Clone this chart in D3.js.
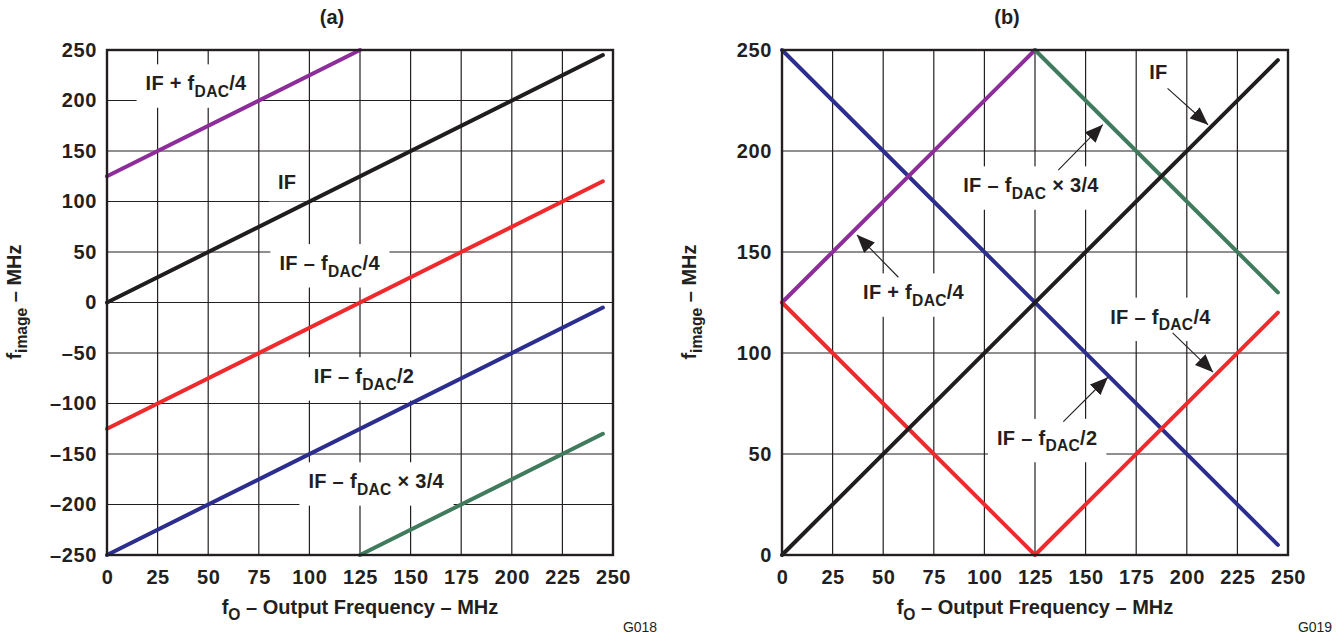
<!DOCTYPE html>
<html>
<head>
<meta charset="utf-8">
<script src="https://cdn.jsdelivr.net/npm/d3@7"></script>
<style>
body { margin: 0; background: #fff; }
text { font-family: 'Liberation Sans', Arial, Helvetica, sans-serif; fill: #231f20; }
</style>
</head>
<body>
<div class="chart"></div>
<script>
//data
const freqTicks = [0, 25, 50, 75, 100, 125, 150, 175, 200, 225, 250];
const imageTicksA = [-250, -200, -150, -100, -50, 0, 50, 100, 150, 200, 250];
const imageTicksB = [0, 50, 100, 150, 200, 250];

// panel (a): image frequency vs output frequency
const ifX = [0, 245];
const ifY = [0, 245];
const plusQuarterX = [0, 125];
const plusQuarterY = [125, 250];
const minusQuarterXA = [0, 245];
const minusQuarterYA = [-125, 120];
const minusHalfX = [0, 245];
const minusHalfYA = [-250, -5];
const minusThreeQX = [125, 245];
const minusThreeQYA = [-250, -130];

// panel (b): folded images
const minusQuarterXB = [0, 125, 245];
const minusQuarterYB = [125, 0, 120];
const minusHalfYB = [250, 5];
const minusThreeQYB = [250, 130];

const colors = {
    if: '#1f1d1e',
    plusQuarter: '#8f2c9c',
    minusQuarter: '#ee2a2d',
    minusHalf: '#2b2e8e',
    minusThreeQ: '#3f7b5c'
};

// label text pieces: [before subscript, subscript, after]
const labelTexts = {
    if: ['IF', '', ''],
    plusQuarter: ['IF + f', 'DAC', '/4'],
    minusQuarter: ['IF \u2013 f', 'DAC', '/4'],
    minusHalf: ['IF \u2013 f', 'DAC', '/2'],
    minusThreeQ: ['IF \u2013 f', 'DAC', ' \u00d7  3/4']
};

// label centres in data units
const labelsA = [
    { key: 'plusQuarter', x: 44, y: 217 },
    { key: 'if', x: 89, y: 119 },
    { key: 'minusQuarter', x: 110, y: 39 },
    { key: 'minusHalf', x: 127, y: -73 },
    { key: 'minusThreeQ', x: 133, y: -177 }
];
const labelsB = [
    { key: 'if', x: 186, y: 239, ax: [190.5, 210.5], ay: [231, 213] },
    { key: 'minusThreeQ', x: 123, y: 183, ax: [136.5, 158.5], ay: [190.5, 213] },
    { key: 'plusQuarter', x: 65, y: 130, ax: [57.5, 37], ay: [137.5, 158.5] },
    { key: 'minusQuarter', x: 187, y: 118, ax: [193, 213], ay: [110, 90.5] },
    { key: 'minusHalf', x: 131, y: 58, ax: [139, 161], ay: [66, 88] }
];

const zipXY = (xs, ys) => xs.map((x, i) => ({ x: x, y: ys[i] }));

const seriesA = [
    { key: 'plusQuarter', values: zipXY(plusQuarterX, plusQuarterY) },
    { key: 'if', values: zipXY(ifX, ifY) },
    { key: 'minusQuarter', values: zipXY(minusQuarterXA, minusQuarterYA) },
    { key: 'minusHalf', values: zipXY(minusHalfX, minusHalfYA) },
    { key: 'minusThreeQ', values: zipXY(minusThreeQX, minusThreeQYA) }
];
const seriesB = [
    { key: 'minusHalf', values: zipXY(minusHalfX, minusHalfYB) },
    { key: 'plusQuarter', values: zipXY(plusQuarterX, plusQuarterY) },
    { key: 'minusThreeQ', values: zipXY(minusThreeQX, minusThreeQYB) },
    { key: 'minusQuarter', values: zipXY(minusQuarterXB, minusQuarterYB) },
    { key: 'if', values: zipXY(ifX, ifY) }
];

//chart
const width = 1339;
const height = 637;

const svg = d3.select('.chart')
    .append('svg')
    .attr('width', width)
    .attr('height', height);

svg.append('rect').attr('width', width).attr('height', height).attr('fill', '#fff');

svg.append('defs')
    .append('marker')
    .attr('id', 'arrow')
    .attr('markerUnits', 'userSpaceOnUse')
    .attr('markerWidth', 19)
    .attr('markerHeight', 15)
    .attr('refX', 18)
    .attr('refY', 7.5)
    .attr('orient', 'auto')
    .append('path')
    .attr('d', 'M0,0 L18,7.5 L0,15 Z')
    .attr('fill', '#231f20');

// text with a subscript
const subText = (sel, parts, size) => {
    sel.append('tspan').text(parts[0]);
    if (parts[1]) {
        sel.append('tspan')
            .attr('dy', size * 0.32)
            .style('font-size', (size * 0.78) + 'px')
            .text(parts[1]);
        sel.append('tspan')
            .attr('dy', -size * 0.32)
            .text(parts[2]);
    }
};

const drawPanel = (cfg) => {
    const xScale = d3.scaleLinear().domain([0, 250]).range([cfg.left, cfg.right]);
    const yScale = d3.scaleLinear().domain(cfg.yDomain).range([555, 50]);
    const g = svg.append('g');

    // grid
    const grid = g.append('g').attr('class', 'grid');
    grid.selectAll('.vline')
        .data(freqTicks.slice(1, -1))
        .enter()
        .append('line')
        .attr('x1', d => xScale(d)).attr('x2', d => xScale(d))
        .attr('y1', yScale.range()[0]).attr('y2', yScale.range()[1])
        .attr('stroke', '#231f20').attr('stroke-width', 1.2);
    grid.selectAll('.hline')
        .data(cfg.yTicks.slice(1, -1))
        .enter()
        .append('line')
        .attr('y1', d => yScale(d)).attr('y2', d => yScale(d))
        .attr('x1', cfg.left).attr('x2', cfg.right)
        .attr('stroke', '#231f20').attr('stroke-width', 1.2);

    const boxes = g.append('g');
    const lineGroup = g.append('g');
    const textGroup = g.append('g');

    // labels with white boxes
    cfg.labels.forEach(l => {
        const t = textGroup.append('text')
            .attr('x', xScale(l.x))
            .attr('y', yScale(l.y) + 7)
            .attr('text-anchor', 'middle')
            .style('font-size', '20px')
            .style('font-weight', 'bold')
            .style('letter-spacing', '0.3px');
        subText(t, labelTexts[l.key], 20);
        const bb = t.node().getBBox();
        boxes.append('rect')
            .attr('x', bb.x - 9).attr('y', bb.y - 8)
            .attr('width', bb.width + 18).attr('height', bb.height + 16)
            .attr('fill', '#fff');
        if (l.ax) {
            textGroup.append('line')
                .attr('x1', xScale(l.ax[0])).attr('y1', yScale(l.ay[0]))
                .attr('x2', xScale(l.ax[1])).attr('y2', yScale(l.ay[1]))
                .attr('stroke', '#231f20')
                .attr('stroke-width', 1.1)
                .attr('marker-end', 'url(#arrow)');
        }
    });

    // series lines
    const lineGenerator = d3.line()
        .x(d => xScale(d.x))
        .y(d => yScale(d.y));
    lineGroup.selectAll('path')
        .data(cfg.series)
        .enter()
        .append('path')
        .attr('d', d => lineGenerator(d.values))
        .attr('fill', 'none')
        .attr('stroke', d => colors[d.key])
        .attr('stroke-width', 4)
        .attr('stroke-linecap', 'round')
        .attr('stroke-linejoin', 'round');

    // frame
    g.append('rect')
        .attr('x', cfg.left).attr('y', 50)
        .attr('width', cfg.right - cfg.left).attr('height', 505)
        .attr('fill', 'none')
        .attr('stroke', '#231f20')
        .attr('stroke-width', 2.4);

    // axes
    const xAxis = d3.axisBottom(xScale).tickValues(freqTicks).tickSize(0).tickPadding(15);
    const xAxisDraw = g.append('g')
        .attr('transform', 'translate(0,555)')
        .call(xAxis);
    const yAxis = d3.axisLeft(yScale).tickValues(cfg.yTicks).tickSize(0).tickPadding(10)
        .tickFormat(d => d < 0 ? '\u2013' + Math.abs(d) : d);
    const yAxisDraw = g.append('g')
        .attr('transform', `translate(${cfg.left},0)`)
        .call(yAxis);
    [xAxisDraw, yAxisDraw].forEach(a => {
        a.select('.domain').remove();
        a.selectAll('text')
            .style('font-size', '20px')
            .style('font-weight', 'bold')
            .style('font-family', "'Liberation Sans', Arial, sans-serif")
            .style('letter-spacing', '0.6px')
            .attr('fill', '#231f20');
    });

    // titles
    g.append('text')
        .attr('x', (cfg.left + cfg.right) / 2 - 28)
        .attr('y', 24)
        .attr('text-anchor', 'middle')
        .style('font-size', '20px')
        .style('font-weight', 'bold')
        .text(cfg.title);

    const xTitle = g.append('text')
        .attr('x', (cfg.left + cfg.right) / 2)
        .attr('y', 614)
        .attr('text-anchor', 'middle')
        .style('font-size', '20px')
        .style('font-weight', 'bold');
    subText(xTitle, ['f', 'O', ' \u2013 Output Frequency \u2013 MHz'], 20);

    const yTitle = g.append('text')
        .attr('transform', `translate(${cfg.left - 86},302) rotate(-90)`)
        .attr('text-anchor', 'middle')
        .style('font-size', '20px')
        .style('font-weight', 'bold');
    subText(yTitle, ['f', 'image', ' \u2013 MHz'], 20);

    g.append('text')
        .attr('x', cfg.right + 27)
        .attr('y', 632)
        .attr('text-anchor', 'middle')
        .style('font-size', '14px')
        .text(cfg.code);
};

drawPanel({
    left: 107, right: 613,
    yDomain: [-250, 250], yTicks: imageTicksA,
    series: seriesA, labels: labelsA,
    title: '(a)', code: 'G018'
});
drawPanel({
    left: 782, right: 1288,
    yDomain: [0, 250], yTicks: imageTicksB,
    series: seriesB, labels: labelsB,
    title: '(b)', code: 'G019'
});
</script>
</body>
</html>
